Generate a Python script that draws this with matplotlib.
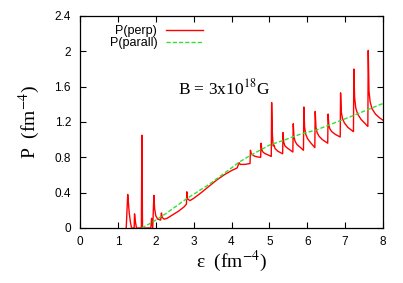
import matplotlib
matplotlib.use("Agg")
import matplotlib.pyplot as plt

plt.rcParams["mathtext.fontset"] = "stix"

# P(perp) curve
perp_x = [1.22, 1.26, 1.28, 1.30, 1.33, 1.36, 1.43, 1.44, 1.46, 1.49,
          1.62, 1.635, 1.65, 1.87, 1.89, 1.92, 1.95, 1.97, 2.00, 2.05,
          2.13, 2.15, 2.17, 2.22, 2.30, 2.45, 2.60, 2.75, 2.81, 2.82,
          2.84, 2.90, 3.00, 3.20, 3.40, 3.60, 3.80, 4.00, 4.15, 4.20,
          4.23, 4.35, 4.49, 4.50, 4.52, 4.55, 4.60, 4.68, 4.77, 4.78,
          4.80, 4.83, 4.88, 4.96, 5.05, 5.06, 5.08, 5.10, 5.12, 5.15,
          5.22, 5.35, 5.36, 5.38, 5.41, 5.46, 5.54, 5.62, 5.63, 5.65,
          5.68, 5.73, 5.81, 5.90, 5.91, 5.93, 5.96, 6.01, 6.09, 6.20,
          6.21, 6.23, 6.26, 6.31, 6.40, 6.54, 6.55, 6.57, 6.60, 6.65,
          6.74, 6.87, 6.88, 6.90, 6.93, 6.98, 7.07, 7.22, 7.23, 7.25,
          7.28, 7.33, 7.42, 7.60, 7.61, 7.63, 7.66, 7.71, 7.80, 7.90, 8.00]
perp_y = [0.00, 0.38, 0.28, 0.17, 0.07, 0.00, 0.00, 0.16, 0.08, 0.00,
          0.00, 1.05, 0.00, 0.00, 0.11, 0.00, 0.37, 0.22, 0.14, 0.10,
          0.09, 0.17, 0.12, 0.10, 0.11, 0.15, 0.19, 0.24, 0.27, 0.41,
          0.33, 0.31, 0.335, 0.40, 0.47, 0.54, 0.60, 0.65, 0.68, 0.74,
          0.72, 0.72, 0.73, 0.88, 0.84, 0.83, 0.815, 0.805, 0.80, 0.96,
          0.885, 0.86, 0.843, 0.828, 0.81, 1.42, 1.05, 0.93, 0.94, 0.90,
          0.87, 0.84, 1.08, 0.97, 0.93, 0.91, 0.885, 0.86, 1.18, 1.03,
          0.98, 0.945, 0.915, 0.88, 1.37, 1.14, 1.06, 1.01, 0.965, 0.91,
          1.32, 1.14, 1.08, 1.04, 1.00, 0.96, 1.29, 1.16, 1.12, 1.09,
          1.06, 1.03, 1.53, 1.31, 1.24, 1.19, 1.14, 1.09, 1.80, 1.48,
          1.36, 1.29, 1.23, 1.15, 2.01, 1.55, 1.43, 1.35, 1.29, 1.25, 1.22]

# P(parall) curve
par_x = [1.63, 1.93, 2.29, 2.81, 3.43, 4.22, 4.49, 5.01, 5.36, 5.80, 6.24, 7.20, 8.00]
par_y = [0.00, 0.07, 0.17, 0.33, 0.50, 0.75, 0.82, 0.94, 0.99, 1.06, 1.11, 1.27, 1.41]

x_ticks = [0, 1, 2, 3, 4, 5, 6, 7, 8]
y_ticks = [0, 0.4, 0.8, 1.2, 1.6, 2.0, 2.4]
y_labels = ["0", "0.4", "0.8", "1.2", "1.6", "2", "2.4"]

fig = plt.figure(figsize=(4.03, 2.83), dpi=100)
ax = fig.add_axes([80 / 403, 55 / 283, 303 / 403, 212 / 283])

ax.plot(perp_x, perp_y, color="#ff0000", lw=1.0, label="P(perp)")
ax.plot(par_x, par_y, color="#33e033", lw=1.0, ls=(0, (3, 1.5)), label="P(parall)")

ax.set_xlim(0, 8)
ax.set_ylim(0, 2.4)
ax.set_xticks(x_ticks)
ax.set_yticks(y_ticks)
ax.set_yticklabels(y_labels)
ax.tick_params(direction="in", top=True, right=True, length=4, width=0.8,
               labelsize=8.5)
ax.tick_params(axis="x", pad=6)
ax.tick_params(axis="y", pad=6.5)
for lab in ax.get_xticklabels() + ax.get_yticklabels():
    lab.set_fontfamily("Liberation Sans")
for s in ax.spines.values():
    s.set_linewidth(0.9)

ax.set_xlabel("ε  (fm$^{-4}$)", fontsize=14, fontfamily="Liberation Serif", labelpad=0)
ax.set_ylabel("P  (fm$^{-4}$)", fontsize=14, fontfamily="Liberation Serif", labelpad=9)

ax.text(0.475, 0.66, "B = 3x10$^{18}$G", transform=ax.transAxes, fontsize=12.5,
        fontfamily="Liberation Serif", ha="center", va="center")

# gnuplot-style key: text first, right-aligned, then the line sample
ax.legend(loc="upper right", bbox_to_anchor=(0.406, 0.958), frameon=False,
          prop={"family": "Liberation Sans", "size": 9}, markerfirst=False,
          handlelength=2.95, handletextpad=0.72, labelspacing=0.0,
          borderaxespad=0, borderpad=0)

fig.savefig("out.png", dpi=100)
